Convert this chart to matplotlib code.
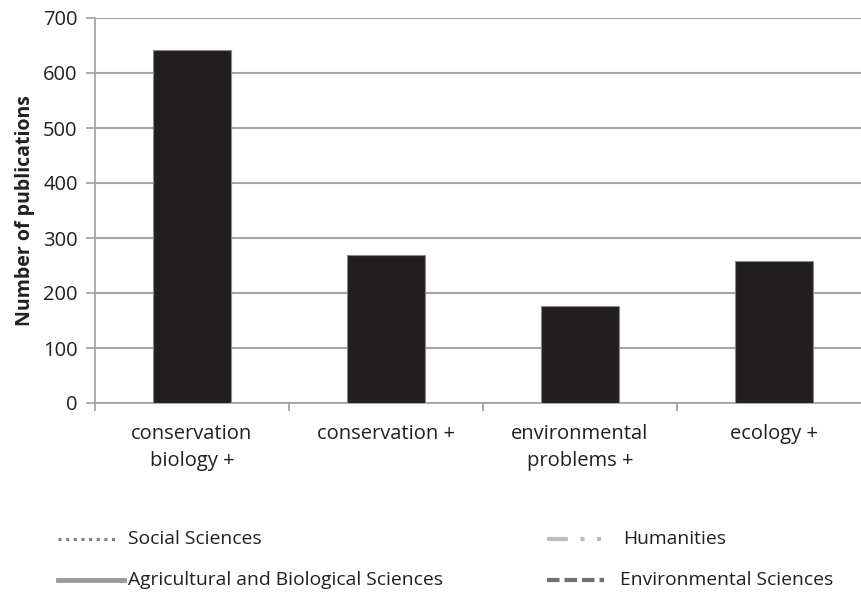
import numpy as np
import matplotlib
matplotlib.use('Agg')
from matplotlib import pyplot as plt
from matplotlib.lines import Line2D

categories = ['conservation\nbiology +', 'conservation +', 'environmental\nproblems +', 'ecology +']
publications = [641, 269, 176, 259]
legend_names = ['Social Sciences', 'Humanities', 'Agricultural and Biological Sciences', 'Environmental Sciences']

plt.rcParams['font.family'] = ['Open Sans', 'DejaVu Sans']
grid_col = '#a6a6a6'
txt_col = '#231f20'

fig = plt.figure(figsize=(8.62, 5.92), dpi=100)
ax = fig.add_axes([95/862, 1-403/592, (871-95)/862, (403-18)/592])

x = np.arange(len(categories))
ax.bar(x, publications, width=0.4, color='#231f20', edgecolor='#8a8a8a', linewidth=0.8, zorder=3)

ax.set_xlim(-0.5, 3.5)
ax.set_ylim(0, 700)
ax.set_yticks(np.arange(0, 701, 100))
ax.yaxis.grid(True, color=grid_col, linewidth=1.5, zorder=0)
ax.set_xticks(x)
ax.set_xticklabels(categories, fontsize=14.5, color=txt_col, linespacing=1.45)
ax.set_xticks(np.arange(-0.5, 4, 1), minor=True)
ax.tick_params(axis='x', which='major', length=0, pad=15)
ax.tick_params(axis='x', which='minor', length=6, color=grid_col, width=1.3)
ax.tick_params(axis='y', length=6.5, color=grid_col, width=1.3, labelsize=14.5, labelcolor=txt_col, pad=6)
for s in ['top', 'right']:
    ax.spines[s].set_visible(False)
ax.spines['left'].set_color(grid_col)
ax.spines['bottom'].set_color(grid_col)
ax.spines['left'].set_linewidth(1.3)
ax.spines['bottom'].set_linewidth(1.3)
ax.set_ylabel('Number of publications', fontsize=14, fontweight='bold', color=txt_col, labelpad=6)

# legend drawn by hand in pixel positions
styles = [
    dict(color='#808080', linestyle=(0, (1, 1.5)), linewidth=2.2),
    dict(color='#bdbdbd', linestyle=(0, (5, 3, 1, 3, 1, 3)), linewidth=3),
    dict(color='#9a9a9a', linestyle='-', linewidth=3.5),
    dict(color='#707070', linestyle=(0, (3, 1.2)), linewidth=3),
]
spots = [(58, 115, 128, 539), (547, 613, 623, 539), (58, 124, 128, 580), (547, 604, 620, 580)]
for name, st, (x0, x1, tx, yy) in zip(legend_names, styles, spots):
    fig.add_artist(Line2D([x0/862, x1/862], [1-yy/592, 1-yy/592], transform=fig.transFigure, **st))
    fig.text(tx/862, 1-yy/592, name, fontsize=13.9, color=txt_col, va='center', ha='left')

fig.savefig('out.png', dpi=100)
